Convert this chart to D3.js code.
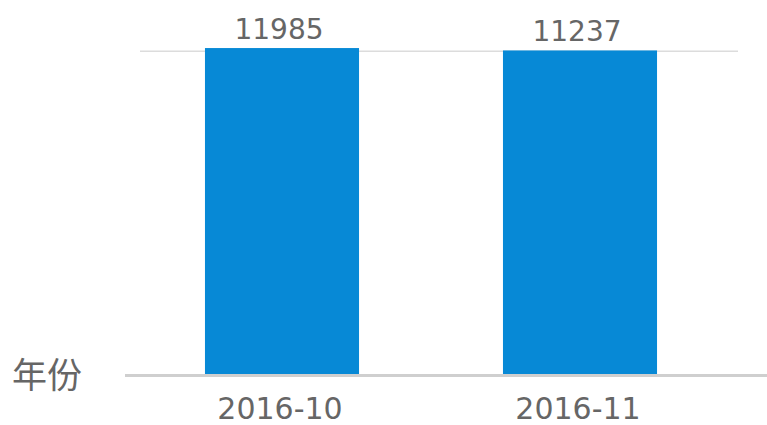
<!DOCTYPE html>
<html>
<head>
<meta charset="utf-8">
<script src="https://cdn.jsdelivr.net/npm/d3@7/dist/d3.min.js"></script>
<style>
html,body{margin:0;padding:0;background:#fff;}
svg{display:block;}
</style>
</head>
<body>
<svg id="chart" width="767" height="425"></svg>
<script>
const categories = ["2016-10", "2016-11"];
const values = [11985, 11237];
const gridTicks = [11000];
const axisTitle = "年份";

const W = 767, H = 425;
const svg = d3.select("#chart");

const x = d3.scaleBand()
  .domain(categories)
  .range([133, 729])
  .paddingInner(0.483)
  .paddingOuter(0.2415);

const y = d3.scaleLinear()
  .domain([-90000, 12000])
  .range([376, 48]);

// grid line
svg.selectAll("line.grid")
  .data(gridTicks)
  .enter().append("line")
  .attr("class", "grid")
  .attr("x1", 140).attr("x2", 738)
  .attr("y1", d => y(d)).attr("y2", d => y(d))
  .attr("stroke", "#dcdcdc")
  .attr("stroke-width", 1.5);

// bars
svg.selectAll("rect.bar")
  .data(values)
  .enter().append("rect")
  .attr("class", "bar")
  .attr("x", (d, i) => x(categories[i]))
  .attr("width", x.bandwidth())
  .attr("y", d => y(d))
  .attr("height", d => y.range()[0] - y(d))
  .attr("fill", "#0789d6");

// axis line
svg.append("line")
  .attr("x1", 125).attr("x2", W)
  .attr("y1", 375.5).attr("y2", 375.5)
  .attr("stroke", "#cfcfcf")
  .attr("stroke-width", 3);

// value labels
svg.selectAll("text.val")
  .data(values)
  .enter().append("text")
  .attr("class", "val")
  .attr("x", (d, i) => x(categories[i]) + x.bandwidth() / 2 - 3)
  .attr("y", d => y(d) - 9)
  .attr("text-anchor", "middle")
  .attr("font-family", "DejaVu Sans, sans-serif")
  .attr("font-size", 28)
  .attr("fill", "#666")
  .text(d => d);

// category labels
svg.selectAll("text.cat")
  .data(categories)
  .enter().append("text")
  .attr("class", "cat")
  .attr("x", d => x(d) + x.bandwidth() / 2 - 2)
  .attr("y", 419)
  .attr("text-anchor", "middle")
  .attr("font-family", "DejaVu Sans, sans-serif")
  .attr("font-size", 30)
  .attr("fill", "#666")
  .text(d => d);

// axis title
svg.append("text")
  .attr("x", 12)
  .attr("y", 388)
  .attr("font-family", "Noto Sans CJK SC, sans-serif")
  .attr("font-size", 35)
  .attr("fill", "#666")
  .text(axisTitle);
</script>
</body>
</html>
